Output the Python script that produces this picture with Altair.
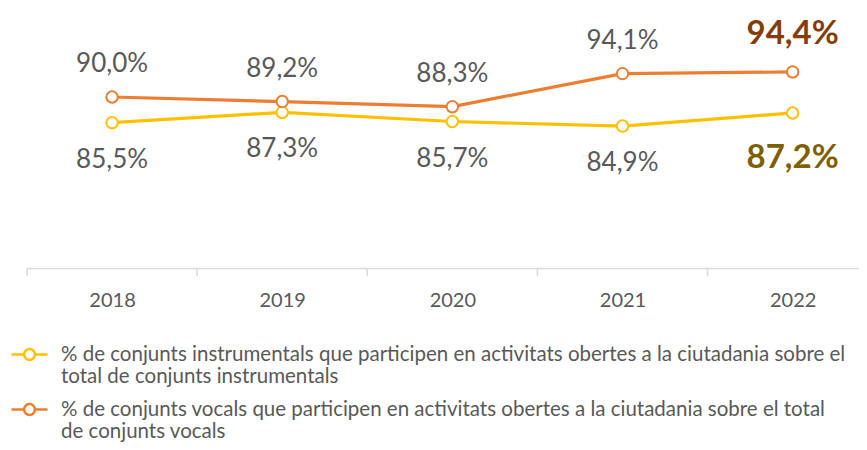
import altair as alt
import pandas as pd

years = [2018, 2019, 2020, 2021, 2022]
instrumental = [85.5, 87.3, 85.7, 84.9, 87.2]
vocal = [90.0, 89.2, 88.3, 94.1, 94.4]
series_names = [
    "% de conjunts instrumentals que participen en activitats obertes a la ciutadania sobre el|total de conjunts instrumentals",
    "% de conjunts vocals que participen en activitats obertes a la ciutadania sobre el total|de conjunts vocals",
]
line_colors = ["#FFC000", "#ED7D31"]
highlight_colors = ["#7F6000", "#843C0C"]
boundaries = [2017.5, 2018.5, 2019.5, 2020.5, 2021.5]

rows = []
for name, vals, pos in [(series_names[0], instrumental, "below"), (series_names[1], vocal, "above")]:
    for i, (y, v) in enumerate(zip(years, vals)):
        rows.append({
            "year": y, "value": v, "series": name, "pos": pos,
            "label": f"{v:.1f}%".replace(".", ","),
            "last": i == len(years) - 1,
        })
df = pd.DataFrame(rows)
bdf = pd.DataFrame({"b": boundaries})

xscale = alt.Scale(domain=[2017.5, 2022.39], nice=False, zero=False)
yscale = alt.Scale(domain=[60, 100], nice=False, zero=False)
x = alt.X("year:Q", scale=xscale,
          axis=alt.Axis(values=years, format="d", ticks=False, grid=False,
                        domainColor="#D9D9D9", domainWidth=1.5, labelColor="#595959",
                        labelFont="Lato", labelFontSize=20, labelPadding=22, title=None))
y = alt.Y("value:Q", scale=yscale, axis=None)

sym = "M-1,0L-0.3,0M0.3,0L1,0M-0.3,0A0.3,0.3,0,1,1,0.3,0A0.3,0.3,0,1,1,-0.3,0Z"
color = alt.Color("series:N", scale=alt.Scale(domain=series_names, range=line_colors),
                  legend=alt.Legend(orient="none", legendX=-17, legendY=295, direction="vertical",
                                    title=None, labelFont="Lato", labelFontSize=20.5,
                                    labelColor="#595959", labelExpr="split(datum.label, '|')",
                                    labelLimit=900, symbolType=sym, symbolSize=1296,
                                    symbolStrokeWidth=2.5, symbolFillColor="white",
                                    labelOffset=12, rowPadding=3))

base = alt.Chart(df)

seps = alt.Chart(bdf).mark_rule(color="#D9D9D9", strokeWidth=1.5).encode(
    x=alt.X("b:Q", scale=xscale), y=alt.value(228), y2=alt.value(236))

lines = base.mark_line(strokeWidth=3.2).encode(x=x, y=y, color=color)
points = base.mark_point(shape="circle", size=130, fill="white", opacity=1, strokeWidth=2).encode(
    x=x, y=y, color=color)

lab_above = base.transform_filter("datum.pos == 'above' && !datum.last").mark_text(
    font="Lato", fontSize=26, color="#595959", dy=-33, baseline="middle").encode(x=x, y=y, text="label:N")
lab_below = base.transform_filter("datum.pos == 'below' && !datum.last").mark_text(
    font="Lato", fontSize=26, color="#595959", dy=37, baseline="middle").encode(x=x, y=y, text="label:N")
big_above = base.transform_filter("datum.pos == 'above' && datum.last").mark_text(
    font="Lato", fontSize=33, fontWeight="bold", color=highlight_colors[1], dy=-38, baseline="middle").encode(
    x=x, y=y, text="label:N")
big_below = base.transform_filter("datum.pos == 'below' && datum.last").mark_text(
    font="Lato", fontSize=33, fontWeight="bold", color=highlight_colors[0], dy=45, baseline="middle").encode(
    x=x, y=y, text="label:N")

chart = alt.layer(seps, lines, points, lab_above, lab_below, big_above, big_below).properties(
    width=832, height=228,
    autosize=alt.AutoSizeParams(type="none"),
    padding={"left": 19, "top": 32, "right": 0, "bottom": 174},
    background="white",
).configure(style={"guide-label": {"lineHeight": 22}}).configure_view(stroke=None)

chart.save("out.html", embed_options={"renderer": "svg", "actions": False})
